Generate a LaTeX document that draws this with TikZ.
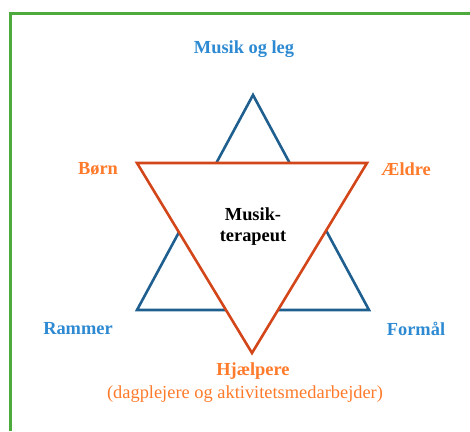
\documentclass[tikz,border=0pt]{standalone}
\usepackage{fontspec}
\setmainfont{Liberation Serif}
\definecolor{linjeblaa}{HTML}{1F5F8F}
\definecolor{tekstblaa}{HTML}{2D8AD2}
\definecolor{linjeorange}{HTML}{D2461A}
\definecolor{tekstorange}{HTML}{FF7A2A}
\definecolor{ramme}{HTML}{4DAA3C}
\begin{document}
\begin{tikzpicture}[x=1pt, y=-1pt,
    every node/.style={inner sep=0pt, font=\fontsize{18.4}{21}\selectfont\bfseries}]
            \useasboundingbox (0,0) rectangle (470,431);
            \draw [ramme, line width=3pt] (470,13) -- (10,13) -- (10,431);
            % trekanterne
            \coordinate (top) at (253,95);
            \coordinate (venstre) at (137,310);
            \coordinate (hoejre) at (369,310);
            \coordinate (ov) at (137,163);
            \coordinate (oh) at (367,163);
            \coordinate (bund) at (252,353);
            \draw [linjeblaa, line width=2.6pt] (top) -- (venstre) -- (hoejre) -- cycle;
            \draw [linjeorange, fill=white, line width=2.6pt] (ov) -- (oh) -- (bund) -- cycle;
            % tekster
            \node [tekstblaa] (leg) at (244,49) {Musik og leg};
            \node [tekstorange] (boern) at (98,169) {Børn};
            \node [tekstorange] (aeldre) at (406,169) {Ældre};
            \node [align=center] (terapeut) at (253,227) {Musik-\\terapeut};
            \node [tekstblaa] (rammer) at (78,329) {Rammer};
            \node [tekstblaa] (formaal) at (416,329) {Formål};
            \node [tekstorange] (hjaelpere) at (253,371) {Hjælpere};
            \node [tekstorange, font=\fontsize{18.4}{21}\selectfont] (dagpleje) at (245,394) {(dagplejere og aktivitetsmedarbejder)};
        \end{tikzpicture}
\end{document}
